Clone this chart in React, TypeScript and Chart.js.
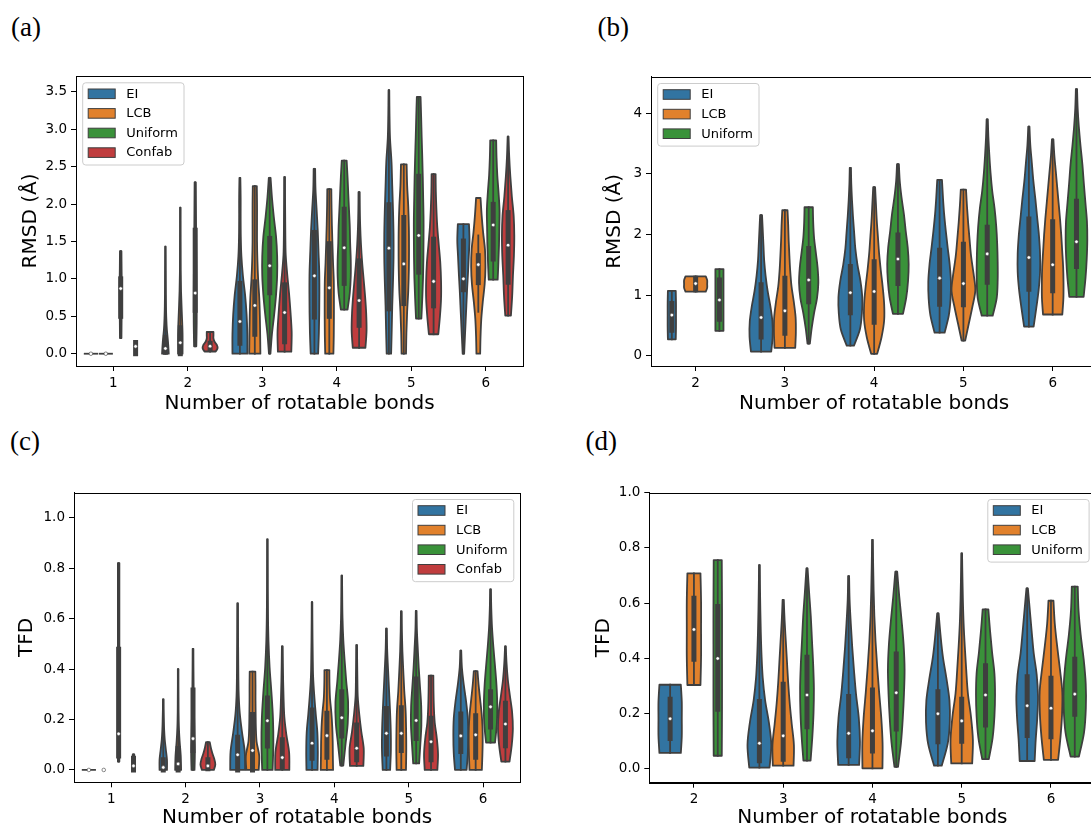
import React, { useEffect, useRef } from "react";
import { Chart, registerables } from "chart.js";

Chart.register(...registerables);

// Violin = [min, max, q1, median, q3, whiskerLow, whiskerHigh, density profile]
// density profile: violin width as a fraction of the hue slot, read at evenly spaced heights from min to max
type Violin = [number, number, number, number, number, number, number, number[]];

const X_TITLE = "Number of rotatable bonds";
const RMSD_TITLE = "RMSD (Å)";
const TFD_TITLE = "TFD";

const SERIES_4 = ["EI", "LCB", "Uniform", "Confab"];
const SERIES_3 = ["EI", "LCB", "Uniform"];
const COLORS = ["#3274a1", "#e1812c", "#3a923a", "#c03d3e"];

const CATS_AC = [1, 2, 3, 4, 5, 6];
const CATS_BD = [2, 3, 4, 5, 6];

const A_YTICKS = [0, 0.5, 1, 1.5, 2, 2.5, 3, 3.5];
const B_YTICKS = [0, 1, 2, 3, 4];
const C_YTICKS = [0, 0.2, 0.4, 0.6, 0.8, 1.0];
const D_YTICKS = [0, 0.2, 0.4, 0.6, 0.8, 1.0];

// ---------- (a) RMSD, 4 methods ----------
const A_EI: Violin[] = [
  [0, 0, 0, 0, 0, 0, 0, [0.95]],
  [0, 1.43, 0.02, 0.07, 0.22, 0, 1.43, [0.45, 0.35, 0.2, 0.12, 0.08, 0.06, 0.05, 0.04, 0.03, 0.02]],
  [0, 2.35, 0.14, 0.43, 0.94, 0, 2.35, [1.0, 1.0, 0.9, 0.7, 0.4, 0.2, 0.12, 0.1, 0.1, 0.06]],
  [0, 2.47, 0.49, 1.04, 1.62, 0, 2.47, [0.5, 0.6, 0.65, 0.67, 0.65, 0.55, 0.45, 0.3, 0.15, 0.1]],
  [0, 3.52, 0.6, 1.41, 1.99, 0, 3.52, [0.3, 0.38, 0.45, 0.55, 0.62, 0.62, 0.55, 0.45, 0.35, 0.15, 0.08, 0.05]],
  [0, 1.73, 0.855, 1.0, 1.505, 0, 1.73, [0.1, 0.2, 0.3, 0.4, 0.5, 0.62, 0.72, 0.82, 0.75]],
];
const A_LCB: Violin[] = [
  [0, 0, 0, 0, 0, 0, 0, [0.95]],
  [0, 1.95, 0.0, 0.147, 0.347, 0, 1.95, [0.3, 0.3, 0.2, 0.1, 0.05, 0.04, 0.03, 0.03]],
  [0, 2.24, 0.26, 0.645, 0.96, 0, 2.24, [0.75, 0.72, 0.68, 0.6, 0.45, 0.35, 0.3, 0.3, 0.3, 0.27]],
  [0, 2.2, 0.5, 0.88, 1.47, 0, 2.2, [0.55, 0.6, 0.62, 0.62, 0.6, 0.5, 0.42, 0.35, 0.3, 0.27]],
  [0, 2.53, 0.67, 1.2, 1.82, 0, 2.53, [0.3, 0.35, 0.45, 0.6, 0.68, 0.7, 0.68, 0.6, 0.45, 0.38]],
  [0, 2.08, 0.95, 1.19, 1.31, 0.56, 1.58, [0.25, 0.3, 0.4, 0.6, 0.85, 0.96, 0.9, 0.65, 0.45, 0.3]],
];
const A_UNIFORM: Violin[] = [
  [0.21, 1.37, 0.5, 0.87, 1.0, 0.21, 1.37, [0.1, 0.12, 0.15, 0.15, 0.12, 0.1]],
  [0.1, 2.29, 0.58, 0.81, 1.65, 0.1, 2.29, [0.15, 0.2, 0.2, 0.18, 0.15, 0.12, 0.1, 0.08]],
  [0, 2.35, 0.815, 1.175, 1.54, 0, 2.35, [0.1, 0.3, 0.6, 0.85, 1.0, 1.0, 0.85, 0.55, 0.3, 0.12]],
  [0.59, 2.58, 0.94, 1.415, 1.93, 0.59, 2.58, [0.45, 0.75, 0.88, 0.88, 0.8, 0.75, 0.65, 0.55, 0.45, 0.33]],
  [0.47, 3.43, 1.09, 1.58, 2.37, 0.47, 3.43, [0.36, 0.48, 0.58, 0.63, 0.65, 0.65, 0.6, 0.55, 0.48, 0.4, 0.33, 0.25]],
  [0.99, 2.85, 1.265, 1.72, 1.995, 0.99, 2.85, [0.6, 0.7, 0.78, 0.82, 0.85, 0.72, 0.55, 0.45, 0.4]],
];
const A_CONFAB: Violin[] = [
  [0, 0.15, 0, 0.098, 0.15, 0, 0.15, [0.1, 0.1, 0.1]],
  [0.03, 0.29, 0.07, 0.1, 0.14, 0.03, 0.28, [0.75, 1.0, 0.9, 0.6, 0.45, 0.45, 0.45]],
  [0.027, 2.36, 0.16, 0.55, 0.92, 0.027, 2.36, [0.9, 0.95, 0.8, 0.6, 0.35, 0.15, 0.1, 0.08, 0.06, 0.05]],
  [0.08, 2.16, 0.38, 0.71, 1.24, 0.08, 2.16, [0.85, 1.0, 0.95, 0.8, 0.6, 0.4, 0.25, 0.15, 0.1, 0.08]],
  [0.26, 2.4, 0.64, 0.966, 1.53, 0.26, 2.4, [0.63, 0.85, 1.0, 1.0, 0.9, 0.7, 0.5, 0.38, 0.3, 0.27]],
  [0.51, 2.9, 0.955, 1.45, 1.885, 0.51, 2.9, [0.38, 0.55, 0.65, 0.78, 0.83, 0.75, 0.5, 0.3, 0.15, 0.06]],
];

// ---------- (b) RMSD, 3 methods ----------
const B_EI: Violin[] = [
  [0.27, 1.07, 0.42, 0.67, 0.86, 0.27, 1.07, [0.33, 0.35, 0.35, 0.35, 0.33]],
  [0.066, 2.32, 0.31, 0.63, 1.17, 0.066, 2.32, [0.85, 0.97, 0.95, 0.78, 0.55, 0.38, 0.26, 0.2, 0.14, 0.08]],
  [0.165, 3.1, 0.71, 1.04, 1.47, 0.165, 3.1, [0.3, 0.8, 0.97, 1.0, 0.85, 0.6, 0.42, 0.32, 0.22, 0.14, 0.08, 0.05]],
  [0.38, 2.9, 0.85, 1.28, 1.74, 0.38, 2.9, [0.42, 0.77, 0.92, 0.95, 0.85, 0.68, 0.52, 0.38, 0.28, 0.2]],
  [0.48, 3.78, 1.095, 1.62, 2.255, 0.48, 3.78, [0.4, 0.62, 0.82, 0.94, 0.94, 0.85, 0.7, 0.55, 0.38, 0.25, 0.12, 0.05]],
];
const B_LCB: Violin[] = [
  [1.056, 1.31, 1.09, 1.19, 1.28, 1.056, 1.31, [0.85, 0.97, 0.97, 0.97, 0.85]],
  [0.13, 2.4, 0.37, 0.74, 1.28, 0.13, 2.4, [0.87, 0.92, 0.9, 0.75, 0.56, 0.45, 0.38, 0.32, 0.28, 0.22]],
  [0.03, 2.78, 0.55, 1.06, 1.55, 0.03, 2.78, [0.25, 0.62, 0.84, 0.84, 0.72, 0.56, 0.42, 0.32, 0.22, 0.15, 0.08]],
  [0.25, 2.74, 0.84, 1.19, 1.84, 0.25, 2.74, [0.15, 0.45, 0.75, 1.0, 0.85, 0.65, 0.52, 0.4, 0.3, 0.22]],
  [0.68, 3.57, 1.07, 1.5, 2.21, 0.68, 3.57, [0.81, 0.9, 0.91, 0.88, 0.8, 0.72, 0.62, 0.5, 0.38, 0.26, 0.14, 0.06]],
];
const B_UNIFORM: Violin[] = [
  [0.41, 1.43, 0.6, 0.92, 1.25, 0.41, 1.43, [0.34, 0.34, 0.34, 0.34, 0.34]],
  [0.2, 2.45, 0.89, 1.25, 1.77, 0.2, 2.45, [0.1, 0.25, 0.45, 0.7, 0.81, 0.75, 0.6, 0.45, 0.38, 0.35]],
  [0.69, 3.16, 1.19, 1.595, 1.99, 0.69, 3.16, [0.42, 0.7, 0.85, 0.9, 0.82, 0.65, 0.5, 0.3, 0.15, 0.08]],
  [0.66, 3.9, 1.21, 1.68, 2.12, 0.66, 3.9, [0.46, 0.8, 0.88, 0.88, 0.84, 0.76, 0.62, 0.42, 0.28, 0.18, 0.1, 0.05]],
  [0.97, 4.4, 1.47, 1.88, 2.55, 0.97, 4.4, [0.6, 0.76, 0.86, 0.91, 0.88, 0.75, 0.62, 0.5, 0.34, 0.2, 0.1, 0.05]],
];

// ---------- (c) TFD, 4 methods ----------
const C_EI: Violin[] = [
  [0, 0, 0, 0, 0, 0, 0, [0.95]],
  [0, 0.28, 0.0, 0.01, 0.04, 0, 0.28, [0.5, 0.5, 0.35, 0.2, 0.12, 0.08, 0.05, 0.04]],
  [0, 0.66, 0.0, 0.06, 0.13, 0, 0.66, [1.0, 0.95, 0.6, 0.3, 0.15, 0.1, 0.08, 0.06, 0.05, 0.04]],
  [0, 0.665, 0.046, 0.106, 0.238, 0, 0.665, [0.75, 0.78, 0.72, 0.5, 0.3, 0.15, 0.1, 0.07, 0.05, 0.04]],
  [0, 0.56, 0.063, 0.145, 0.244, 0, 0.56, [0.5, 0.6, 0.58, 0.48, 0.35, 0.22, 0.1, 0.05]],
  [0, 0.473, 0.073, 0.135, 0.222, 0, 0.473, [0.78, 0.95, 1.0, 0.95, 0.72, 0.4, 0.15, 0.06]],
];
const C_LCB: Violin[] = [
  [0, 0, 0, 0, 0, 0, 0, [0]],
  [0, 0.4, 0.0, 0.024, 0.085, 0, 0.4, [0.4, 0.35, 0.2, 0.1, 0.06, 0.05, 0.04, 0.04]],
  [0, 0.39, 0.0, 0.077, 0.22, 0, 0.39, [0.83, 0.9, 0.55, 0.45, 0.42, 0.4, 0.4, 0.38]],
  [0, 0.396, 0.05, 0.136, 0.225, 0, 0.396, [0.83, 0.8, 0.78, 0.72, 0.6, 0.42, 0.35, 0.33]],
  [0, 0.628, 0.077, 0.145, 0.247, 0, 0.628, [0.63, 0.67, 0.65, 0.58, 0.4, 0.27, 0.15, 0.08, 0.05]],
  [0, 0.392, 0.05, 0.139, 0.215, 0, 0.392, [0.83, 0.9, 0.94, 0.92, 0.8, 0.6, 0.4, 0.25]],
];
const C_UNIFORM: Violin[] = [
  [0.033, 0.82, 0.055, 0.143, 0.478, 0.033, 0.82, [0.1, 0.1, 0.1, 0.1, 0.1]],
  [0, 0.48, 0.077, 0.124, 0.317, 0, 0.48, [0.2, 0.25, 0.2, 0.15, 0.1, 0.08, 0.06, 0.05]],
  [0, 0.914, 0.095, 0.195, 0.285, 0, 0.914, [0.7, 0.8, 0.75, 0.55, 0.3, 0.15, 0.08, 0.05, 0.04, 0.03]],
  [0.017, 0.77, 0.135, 0.207, 0.31, 0.017, 0.77, [0.2, 0.5, 0.8, 0.85, 0.6, 0.38, 0.2, 0.1, 0.06, 0.04]],
  [0.026, 0.63, 0.125, 0.196, 0.36, 0.026, 0.63, [0.4, 0.56, 0.7, 0.68, 0.52, 0.35, 0.22, 0.1, 0.05]],
  [0.108, 0.716, 0.17, 0.25, 0.31, 0.108, 0.716, [0.6, 0.85, 0.9, 0.8, 0.6, 0.38, 0.2, 0.1, 0.05]],
];
const C_CONFAB: Violin[] = [
  [0, 0.062, 0.0, 0.016, 0.046, 0, 0.062, [0.1, 0.1, 0.1]],
  [0, 0.11, 0.005, 0.016, 0.04, 0, 0.11, [0.8, 1.0, 0.85, 0.6, 0.4, 0.25]],
  [0, 0.49, 0.01, 0.049, 0.12, 0, 0.49, [0.95, 0.92, 0.55, 0.28, 0.18, 0.12, 0.08, 0.05]],
  [0.016, 0.495, 0.04, 0.086, 0.178, 0.016, 0.495, [0.9, 0.95, 0.62, 0.35, 0.15, 0.1, 0.07, 0.05]],
  [0, 0.374, 0.04, 0.112, 0.205, 0, 0.374, [0.85, 0.94, 0.78, 0.5, 0.38, 0.33, 0.31]],
  [0.033, 0.49, 0.096, 0.182, 0.264, 0.033, 0.49, [0.55, 0.85, 1.0, 0.9, 0.6, 0.32, 0.15, 0.05]],
];

// ---------- (d) TFD, 3 methods ----------
const D_EI: Violin[] = [
  [0.058, 0.305, 0.11, 0.182, 0.252, 0.058, 0.305, [0.9, 0.98, 0.98, 0.98, 0.9]],
  [0.005, 0.738, 0.03, 0.093, 0.244, 0.005, 0.738, [0.85, 1.0, 0.8, 0.48, 0.28, 0.18, 0.12, 0.08, 0.05, 0.03]],
  [0.015, 0.698, 0.048, 0.129, 0.262, 0.015, 0.698, [0.88, 0.95, 0.85, 0.62, 0.45, 0.3, 0.18, 0.08, 0.04]],
  [0.012, 0.563, 0.099, 0.2, 0.28, 0.012, 0.563, [0.32, 0.82, 1.0, 0.97, 0.72, 0.42, 0.22, 0.06]],
  [0.029, 0.654, 0.121, 0.229, 0.334, 0.029, 0.654, [0.63, 0.72, 0.85, 0.91, 0.8, 0.55, 0.38, 0.22, 0.06]],
];
const D_LCB: Violin[] = [
  [0.304, 0.708, 0.397, 0.505, 0.618, 0.304, 0.708, [0.55, 0.6, 0.6, 0.6, 0.55]],
  [0.012, 0.612, 0.035, 0.12, 0.307, 0.012, 0.612, [0.87, 0.9, 0.72, 0.55, 0.42, 0.32, 0.22, 0.12, 0.05]],
  [0.0025, 0.829, 0.065, 0.138, 0.286, 0.0025, 0.829, [0.84, 0.85, 0.74, 0.56, 0.4, 0.26, 0.16, 0.1, 0.06, 0.03]],
  [0.02, 0.78, 0.1, 0.174, 0.252, 0.02, 0.78, [0.88, 0.94, 0.78, 0.52, 0.38, 0.26, 0.16, 0.1, 0.06, 0.03]],
  [0.033, 0.609, 0.117, 0.22, 0.328, 0.033, 0.609, [0.6, 0.8, 0.93, 0.95, 0.75, 0.52, 0.32, 0.21]],
];
const D_UNIFORM: Violin[] = [
  [0.048, 0.756, 0.216, 0.4, 0.588, 0.048, 0.756, [0.34, 0.36, 0.36, 0.36, 0.34]],
  [0.03, 0.726, 0.153, 0.268, 0.404, 0.03, 0.726, [0.3, 0.45, 0.55, 0.58, 0.52, 0.42, 0.32, 0.18, 0.05]],
  [0.008, 0.714, 0.145, 0.276, 0.416, 0.008, 0.714, [0.15, 0.4, 0.55, 0.65, 0.7, 0.62, 0.45, 0.25, 0.08]],
  [0.036, 0.578, 0.159, 0.268, 0.374, 0.036, 0.578, [0.28, 0.6, 0.75, 0.8, 0.75, 0.55, 0.38, 0.24]],
  [0.045, 0.66, 0.198, 0.271, 0.397, 0.045, 0.66, [0.35, 0.78, 0.93, 0.92, 0.75, 0.5, 0.32, 0.25]],
];

// ---------- layout / styling ----------
const GRAY = "#3f3f3f";
const FONT = "DejaVu Sans";

interface PanelSpec {
  label: string;
  labelLeft: number;
  labelTop: number;
  left: number;
  top: number;
  width: number;
  height: number;
  padTop: number;
  padRight: number;
  yWidth: number;
  xHeight: number;
  yTitlePad: number;
  xTitlePad: number;
  cats: number[];
  xMin: number;
  xMax: number;
  yMin: number;
  yMax: number;
  yTicks: number[];
  decimals: number;
  yTitle: string;
  series: string[];
  violins: Violin[][];
  legendRight: boolean;
}

const PANELS: PanelSpec[] = [
  {
    label: "(a)", labelLeft: 11, labelTop: 14,
    left: 0, top: 60, width: 540, height: 360,
    padTop: 16, padRight: 17, yWidth: 76, xHeight: 54, yTitlePad: 19, xTitlePad: 4.5,
    cats: CATS_AC, xMin: 0.5, xMax: 6.5, yMin: -0.164, yMax: 3.71, yTicks: A_YTICKS, decimals: 1,
    yTitle: RMSD_TITLE, series: SERIES_4, violins: [A_EI, A_LCB, A_UNIFORM, A_CONFAB], legendRight: false,
  },
  {
    label: "(b)", labelLeft: 597.5, labelTop: 14,
    left: 590, top: 60, width: 520, height: 360,
    padTop: 16.7, padRight: 12.7, yWidth: 61, xHeight: 54, yTitlePad: 13, xTitlePad: 4.5,
    cats: CATS_BD, xMin: 1.5, xMax: 6.5, yMin: -0.17, yMax: 4.604, yTicks: B_YTICKS, decimals: 0,
    yTitle: RMSD_TITLE, series: SERIES_3, violins: [B_EI, B_LCB, B_UNIFORM], legendRight: false,
  },
  {
    label: "(c)", labelLeft: 10, labelTop: 428,
    left: 0, top: 470, width: 540, height: 360,
    padTop: 22.7, padRight: 19.7, yWidth: 74, xHeight: 47.7, yTitlePad: 15, xTitlePad: 0,
    cats: CATS_AC, xMin: 0.5, xMax: 6.5, yMin: -0.049, yMax: 1.099, yTicks: C_YTICKS, decimals: 1,
    yTitle: TFD_TITLE, series: SERIES_4, violins: [C_EI, C_LCB, C_UNIFORM, C_CONFAB], legendRight: true,
  },
  {
    label: "(d)", labelLeft: 585.5, labelTop: 428,
    left: 590, top: 470, width: 520, height: 360,
    padTop: 22.7, padRight: 14.4, yWidth: 59.3, xHeight: 47.3, yTitlePad: 1.3, xTitlePad: 0,
    cats: CATS_BD, xMin: 1.5, xMax: 6.5, yMin: -0.0496, yMax: 1.0, yTicks: D_YTICKS, decimals: 1,
    yTitle: TFD_TITLE, series: SERIES_3, violins: [D_EI, D_LCB, D_UNIFORM], legendRight: true,
  },
];

type Pt = { x: number; y: number };

function curveThrough(ctx: CanvasRenderingContext2D, pts: Pt[]) {
  for (let i = 0; i < pts.length - 1; i++) {
    const p0 = pts[Math.max(i - 1, 0)];
    const p1 = pts[i];
    const p2 = pts[i + 1];
    const p3 = pts[Math.min(i + 2, pts.length - 1)];
    ctx.bezierCurveTo(
      p1.x + (p2.x - p0.x) / 6, p1.y + (p2.y - p0.y) / 6,
      p2.x - (p3.x - p1.x) / 6, p2.y - (p3.y - p1.y) / 6,
      p2.x, p2.y
    );
  }
}

function drawViolin(ctx: CanvasRenderingContext2D, xs: any, ys: any, center: number, v: Violin, slot: number, color: string) {
  const [vmin, vmax, q1, , q3, wlo, whi, dens] = v;
  const cxp = xs.getPixelForValue(center);
  const half = (d: number) => xs.getPixelForValue(center + (d * slot) / 2) - cxp;
  ctx.strokeStyle = GRAY;
  ctx.lineJoin = "round";
  ctx.lineWidth = 1.8;
  if (vmax === vmin) {
    const hw = half(dens[0]);
    if (hw > 0) {
      ctx.lineCap = "butt";
      ctx.beginPath();
      ctx.moveTo(cxp - hw, ys.getPixelForValue(vmin));
      ctx.lineTo(cxp + hw, ys.getPixelForValue(vmin));
      ctx.stroke();
    }
    return;
  }
  const n = dens.length;
  const right: Pt[] = dens.map((d, i) => ({
    x: cxp + half(d),
    y: ys.getPixelForValue(vmin + ((vmax - vmin) * i) / (n - 1)),
  }));
  const left: Pt[] = right.map((p) => ({ x: 2 * cxp - p.x, y: p.y })).reverse();
  ctx.beginPath();
  ctx.moveTo(left[n - 1].x, left[n - 1].y);
  ctx.lineTo(right[0].x, right[0].y);
  curveThrough(ctx, right);
  ctx.lineTo(left[0].x, left[0].y);
  curveThrough(ctx, left);
  ctx.closePath();
  ctx.fillStyle = color;
  ctx.fill();
  ctx.stroke();
  // whisker line
  ctx.lineCap = "square";
  ctx.beginPath();
  ctx.moveTo(cxp, ys.getPixelForValue(wlo));
  ctx.lineTo(cxp, ys.getPixelForValue(whi));
  ctx.lineWidth = 1.8;
  ctx.stroke();
  // inter-quartile box
  if (q3 > q1) {
    ctx.beginPath();
    ctx.moveTo(cxp, ys.getPixelForValue(q1));
    ctx.lineTo(cxp, ys.getPixelForValue(q3));
    ctx.lineWidth = 5;
    ctx.stroke();
  }
}

function Panel({ p }: { p: PanelSpec }) {
  const ref = useRef<HTMLCanvasElement>(null);
  useEffect(() => {
    const canvas = ref.current;
    if (!canvas) return;
    const n = p.series.length;
    const slot = 0.8 / n;
    const offsets = p.series.map((_, j) => -0.4 + slot / 2 + j * slot);

    const violinPlugin = {
      id: "violins",
      beforeDatasetsDraw(chart: any) {
        const { ctx, chartArea } = chart;
        const xs = chart.scales.x;
        const ys = chart.scales.y;
        ctx.save();
        ctx.beginPath();
        ctx.rect(chartArea.left, chartArea.top, chartArea.right - chartArea.left, chartArea.bottom - chartArea.top);
        ctx.clip();
        p.violins.forEach((series, j) => {
          series.forEach((v, g) => drawViolin(ctx, xs, ys, p.cats[g] + offsets[j], v, slot, COLORS[j]));
        });
        ctx.restore();
      },
      afterDraw(chart: any) {
        const { ctx, chartArea } = chart;
        ctx.save();
        // axes frame
        ctx.strokeStyle = "#000";
        ctx.lineWidth = 1;
        const l = Math.round(chartArea.left) + 0.5;
        const t = Math.round(chartArea.top) + 0.5;
        const r = Math.round(chartArea.right) + 0.5;
        const b = Math.round(chartArea.bottom) + 0.5;
        ctx.strokeRect(l, t, r - l, b - t);
        // legend
        const bw = 101.3;
        const rowH = 19.6;
        const bh = n * rowH + 3.8;
        const bx = p.legendRight ? chartArea.right - 6.5 - bw : chartArea.left + 6.7;
        const by = chartArea.top + 6.8;
        ctx.beginPath();
        ctx.roundRect(bx, by, bw, bh, 3);
        ctx.fillStyle = "rgba(255,255,255,0.8)";
        ctx.fill();
        ctx.strokeStyle = "#cccccc";
        ctx.lineWidth = 1;
        ctx.stroke();
        ctx.font = `13px "${FONT}"`;
        ctx.textBaseline = "middle";
        ctx.textAlign = "left";
        p.series.forEach((name, i) => {
          const cy = by + 11 + i * rowH;
          ctx.fillStyle = COLORS[i];
          ctx.fillRect(bx + 5.5, cy - 4.8, 27, 9.6);
          ctx.strokeStyle = GRAY;
          ctx.lineWidth = 1;
          ctx.strokeRect(bx + 5.5, cy - 4.8, 27, 9.6);
          ctx.fillStyle = "#000";
          ctx.fillText(name, bx + 43.5, cy + 0.5);
        });
        ctx.restore();
      },
    };

    const chart = new Chart(canvas, {
      type: "scatter",
      data: {
        datasets: p.series.map((name, j) => ({
          label: name,
          data: p.cats.map((c, g) => ({ x: c + offsets[j], y: p.violins[j][g][3] })),
          pointRadius: 1.8,
          pointBackgroundColor: "#ffffff",
          pointBorderColor: GRAY,
          pointBorderWidth: 0.6,
          showLine: false,
        })),
      },
      options: {
        animation: false,
        responsive: false,
        devicePixelRatio: 1,
        events: [],
        layout: { padding: { top: p.padTop, right: p.padRight, left: 0, bottom: 0 } },
        plugins: { legend: { display: false }, tooltip: { enabled: false } },
        scales: {
          x: {
            type: "linear",
            min: p.xMin,
            max: p.xMax,
            afterBuildTicks: (s: any) => {
              s.ticks = p.cats.map((v) => ({ value: v }));
            },
            afterFit: (s: any) => {
              s.height = p.xHeight;
            },
            ticks: {
              callback: (v: any) => String(v),
              font: { family: FONT, size: 13.5 },
              color: "#000",
              padding: 4,
              maxRotation: 0,
              autoSkip: false,
            },
            grid: { drawOnChartArea: false, drawTicks: true, tickLength: 5, tickColor: "#000", tickWidth: 1 },
            border: { display: true, color: "#000", width: 1 },
            title: {
              display: true,
              text: X_TITLE,
              color: "#000",
              font: { family: FONT, size: 20 },
              padding: { top: 0, bottom: p.xTitlePad },
            },
          },
          y: {
            type: "linear",
            min: p.yMin,
            max: p.yMax,
            afterBuildTicks: (s: any) => {
              s.ticks = p.yTicks.map((v) => ({ value: v }));
            },
            afterFit: (s: any) => {
              s.width = p.yWidth;
            },
            ticks: {
              callback: (v: any) => Number(v).toFixed(p.decimals),
              font: { family: FONT, size: 13.5 },
              color: "#000",
              padding: 4,
              autoSkip: false,
            },
            grid: { drawOnChartArea: false, drawTicks: true, tickLength: 5, tickColor: "#000", tickWidth: 1 },
            border: { display: true, color: "#000", width: 1 },
            title: {
              display: true,
              text: p.yTitle,
              color: "#000",
              font: { family: FONT, size: 20 },
              padding: { top: p.yTitlePad, bottom: 0 },
            },
          },
        },
      },
      plugins: [violinPlugin],
    } as any);
    return () => chart.destroy();
  }, [p]);

  return (
    <canvas
      ref={ref}
      width={p.width}
      height={p.height}
      style={{ position: "absolute", left: p.left, top: p.top, width: p.width, height: p.height }}
    />
  );
}

export default function App() {
  return (
    <div
      style={{
        position: "fixed",
        left: 0,
        top: 0,
        width: 1091,
        height: 827,
        overflow: "hidden",
        background: "#ffffff",
      }}
    >
      {PANELS.map((p) => (
        <React.Fragment key={p.label}>
          <div
            style={{
              position: "absolute",
              left: p.labelLeft,
              top: p.labelTop,
              fontFamily: '"Liberation Serif", serif',
              fontSize: 27,
              lineHeight: "27px",
              color: "#000",
              whiteSpace: "nowrap",
            }}
          >
            {p.label}
          </div>
          <Panel p={p} />
        </React.Fragment>
      ))}
    </div>
  );
}
